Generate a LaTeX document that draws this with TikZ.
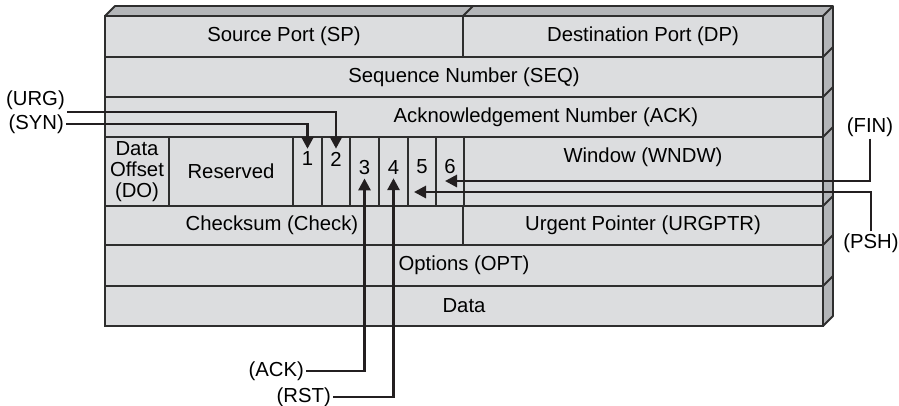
\documentclass[tikz,border=0pt]{standalone}
\usepackage{fontspec}
\setmainfont{Liberation Sans}
\usepackage{tikz}
\usetikzlibrary{arrows.meta,positioning,calc}
\definecolor{facegray}{HTML}{DCDDDF}
\definecolor{sidegray}{HTML}{B3B5B8}
\definecolor{edgegray}{HTML}{2E2E2E}
\definecolor{inkblack}{HTML}{231F20}
\tikzset{
  >={Triangle[length=12pt,width=12pt]},
  % felt
  fld/.style={draw=edgegray,fill=facegray,line width=1.8pt,inner sep=0pt,outer sep=0pt,
              font=\fontsize{20.3}{21}\selectfont,align=center},
  sideface/.style={draw=edgegray,fill=sidegray,line width=1.8pt,line join=round},
  sideline/.style={draw=edgegray,line width=1.8pt},
  txt/.style={font=\fontsize{20.3}{21}\selectfont,inner sep=0pt,align=center},
  num/.style={font=\fontsize{20.3}{21}\selectfont,inner sep=3pt},
  % flag
  lbl/.style={font=\fontsize{20.3}{21}\selectfont,inner sep=2pt},
  flag/.style={->,draw=inkblack,line width=2.8pt},
}
\begin{document}
\begin{tikzpicture}[x=1pt,y=-1pt]
\useasboundingbox (0,0) rectangle (899,405);
  \filldraw[sideface] (105,16) -- (115,6) -- (833,6) -- (833,316) -- (823,326) -- (823,16) -- cycle;
  \foreach \y in {16,57,97,137,206,245,286}
    \draw[sideline] (823,\y) -- ++(10,-10);
  \draw[sideline] (463,16) -- (473,6);
  \node[fld,minimum width=358pt,minimum height=41pt] (sp) at (284,36.5) {Source Port (SP)};
  \node[fld,minimum width=360pt,minimum height=41pt] (dp) at (643,36.5) {Destination Port (DP)};
  \node[fld,minimum width=718pt,minimum height=40pt] (seq) at (464,77) {Sequence Number (SEQ)};
  \node[fld,minimum width=718pt,minimum height=40pt] (ack) at (464,117) {};
  \node[txt] (acktxt) at (546,117) {Acknowledgement Number (ACK)};
  \node[fld,minimum width=64pt,minimum height=69pt] (do) at (137,171.5) {Data\\Offset\\(DO)};
  \node[fld,minimum width=124pt,minimum height=69pt] (res) at (231,171.5) {Reserved};
  \foreach \i/\x/\w/\y in {1/307.5/29/159,2/336/28/159,3/364.5/29/168,4/393.5/29/168,5/422/28/167,6/450/28/167}{
    \node[fld,minimum width=\w pt,minimum height=69pt] (f\i) at (\x,171.5) {};
    \node[num] (n\i) at (\x,\y) {\i};
  }
  \node[fld,minimum width=359pt,minimum height=69pt] (wndw) at (643.5,171.5) {};
  \node[txt] (wndtxt) at (643,157) {Window (WNDW)};
  \node[fld,minimum width=358pt,minimum height=39pt] (chk) at (284,225.5) {};
  \node[txt] (chktxt) at (272,225.5) {Checksum (Check)};
  \node[fld,minimum width=360pt,minimum height=39pt] (urgp) at (643,225.5) {Urgent Pointer (URGPTR)};
  \node[fld,minimum width=718pt,minimum height=41pt] (opt) at (464,265.5) {Options (OPT)};
  \node[fld,minimum width=718pt,minimum height=40pt] (data) at (464,306) {Data};
  % flag labels
  \node[lbl,anchor=south east] (urg) at (67,112) {(URG)};
  \node[lbl,anchor=east] (syn) at (66,124) {(SYN)};
  \node[lbl,anchor=east] (ackf) at (306,371) {(ACK)};
  \node[lbl,anchor=east] (rst) at (333,397) {(RST)};
  \node[lbl] (fin) at (870,127) {(FIN)};
  \node[lbl] (psh) at (871,243) {(PSH)};
  \coordinate (fintip) at (445,181);
  \coordinate (pshtip) at (414,192);
  \draw[flag] (syn.east) -| (n1.north);
  \draw[flag] (urg.south east) -| (n2.north);
  \draw[flag] (ackf.east) -| (n3.south);
  \draw[flag] (rst.east) -| (n4.south);
  \draw[flag] (fin.south) |- (fintip);
  \draw[flag] (psh.north) |- (pshtip);
\end{tikzpicture}
\end{document}
